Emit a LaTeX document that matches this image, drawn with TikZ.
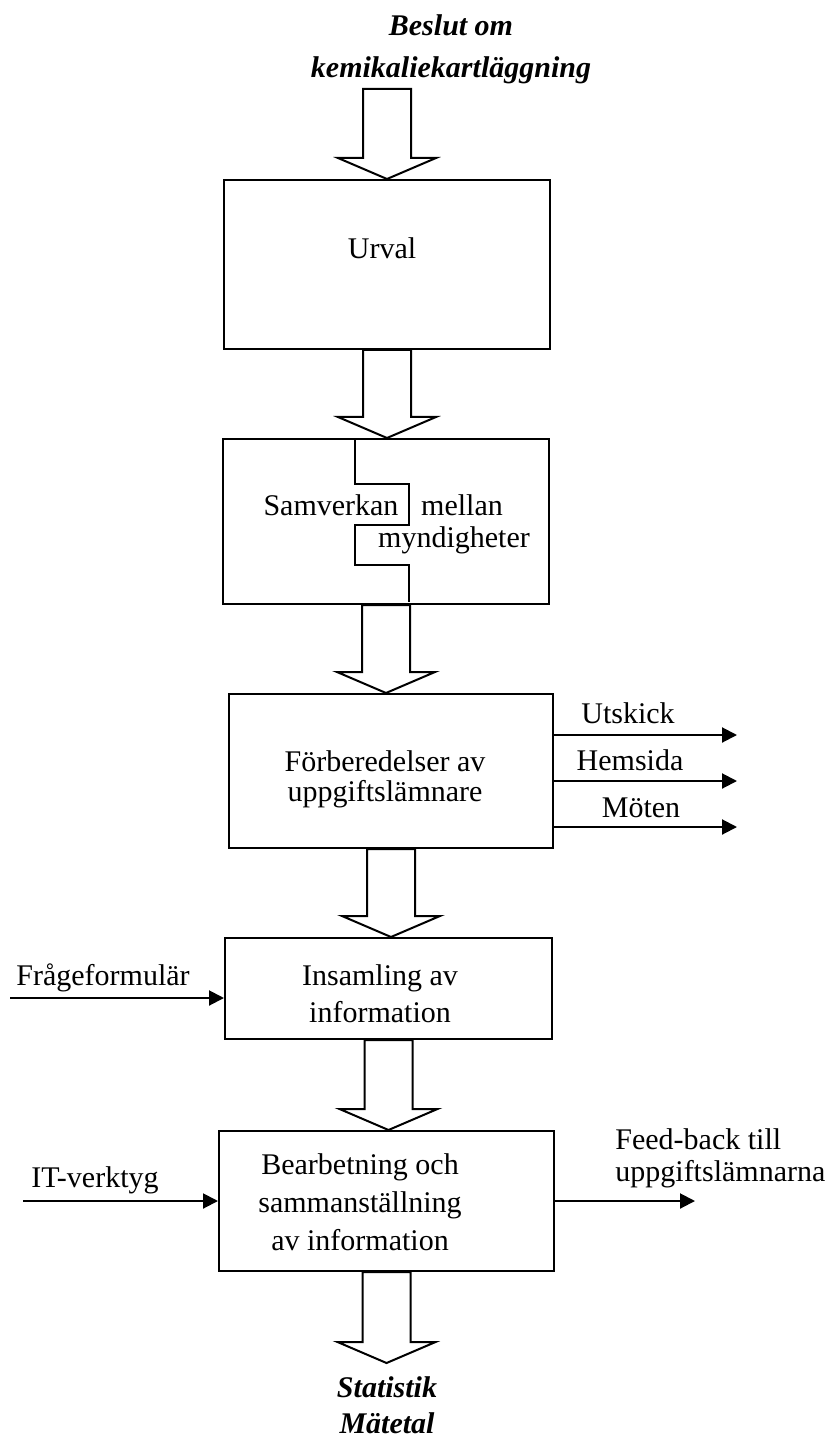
\documentclass[tikz,border=0pt]{standalone}
\usepackage{fontspec}
\setmainfont{Liberation Serif}
\usetikzlibrary{positioning, calc, arrows.meta}

\begin{document}
\begin{tikzpicture}[
		x=0.5pt, y=-0.5pt,
		box/.style={rectangle, draw, line width=1pt, inner sep=0pt},
		txt/.style={inner sep=0pt, font=\fontsize{15}{18}\selectfont, align=center},
		bigtxt/.style={inner sep=0pt, font=\fontsize{15}{18}\selectfont\bfseries\itshape, align=center},
		blockarrow/.style={draw, line width=1pt, fill=white, line join=miter},
		thin/.style={line width=1pt, -{Triangle[length=7.5pt, width=7.5pt]}},
	]

	\useasboundingbox (0,0) rectangle (825,1438);

	\node[box, minimum width=163pt, minimum height=84.5pt] (urval) at (387,264.5) {};
	\node[box, minimum width=163pt, minimum height=82.5pt] (samv) at (386,521.5) {};
	\node[box, minimum width=162pt, minimum height=77pt] (forb) at (391,771) {};
	\node[box, minimum width=163.5pt, minimum height=50.5pt] (insam) at (388.5,988.5) {};
	\node[box, minimum width=167.5pt, minimum height=70pt] (bearb) at (386.5,1201) {};

	\node[txt] (urvaltxt) at (382,248) {Urval};
	\node[txt] (samvtxt) at (331,505) {Samverkan};
	\node[txt] (mellantxt) at (462,505) {mellan};
	\node[txt] (myndtxt) at (454,540) {myndigheter};
	\node[txt, font=\fontsize{15}{15}\selectfont] (forbtxt) at (385,779) {Förberedelser av\\uppgiftslämnare};
	\node[txt, font=\fontsize{15}{18.5}\selectfont] (insamtxt) at (380,993.5) {Insamling av\\information};
	\node[txt, font=\fontsize{15}{19}\selectfont] (bearbtxt) at (360,1202) {Bearbetning och\\sammanställning\\av information};

	\coordinate (top) at (387,89);
	\coordinate (out) at (387,1363);
	\node[bigtxt, font=\fontsize{15}{21}\selectfont\bfseries\itshape] (beslut) at (451,49) {Beslut om\\kemikaliekartläggning};
	\node[bigtxt, below=6.5pt of out] (result) {Statistik\\Mätetal};

	% block arrows between the steps
	\foreach \a/\b in {top/urval.north, urval.south/samv.north, samv.south/forb.north, forb.south/insam.north, insam.south/bearb.north, bearb.south/out}
		\draw[blockarrow] let \p1=(\a), \p2=(\b) in
			(\x1-12pt,\y1) -- (\x1-12pt,\y2+10.5pt) -- (\x1-24.5pt,\y2+10.5pt) -- (\x1,\y2)
			-- (\x1+24.5pt,\y2+10.5pt) -- (\x1+12pt,\y2+10.5pt) -- (\x1+12pt,\y1) -- cycle;

	\draw[line width=1pt] (355,439) -- (355,484) -- (409,484) -- (409,525) -- (355,525) -- (355,565) -- (409,565) -- (409,602);

	\foreach \n/\y/\t/\lx/\ly in {utskick/735/Utskick/628/713, hemsida/781/Hemsida/630/760, moten/827/Möten/641/808}{
		\coordinate (\n) at (737,\y);
		\draw[thin] (forb.east |- \n) -- (\n);
		\node[txt] (\n-lbl) at (\lx,\ly) {\t};
	}

	\coordinate (fragin) at (10,998);
	\draw[thin] (fragin) -- (fragin -| insam.west);
	\node[txt] (fraglbl) at (103,978) {Frågeformulär};

	\coordinate (itin) at (23,1201);
	\draw[thin] (itin) -- (bearb.west);
	\node[txt] (itlbl) at (95,1180) {IT-verktyg};

	\coordinate (fbout) at (695,1201);
	\draw[thin] (bearb.east) -- (fbout);
	\node[txt, font=\fontsize{15}{16}\selectfont, align=left, anchor=west] (fblbl) at (615,1158) {Feed-back till\\uppgiftslämnarna};

\end{tikzpicture}
\end{document}
